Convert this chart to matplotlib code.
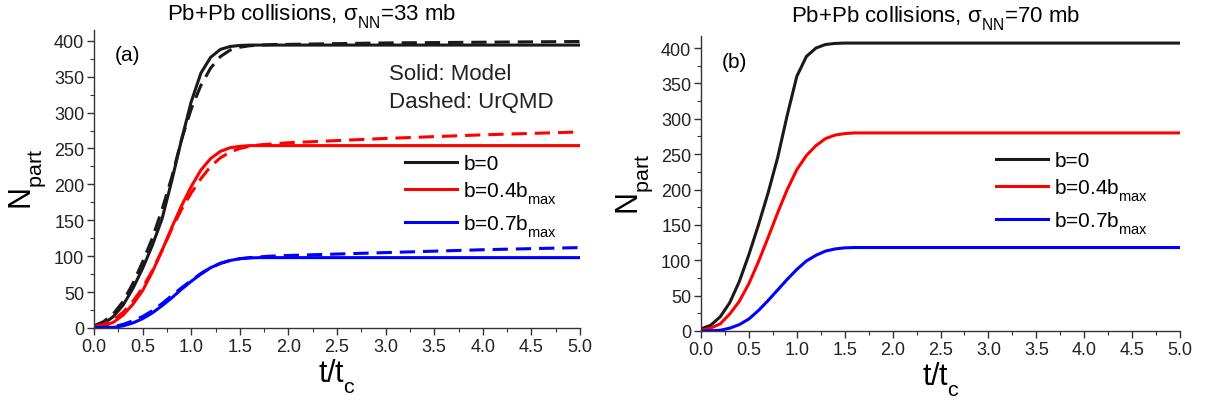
import matplotlib
matplotlib.use("Agg")
import matplotlib.pyplot as plt
from matplotlib.ticker import MultipleLocator

try:
    import matplotlib._mathtext as _mt
    _mt.FontConstantsBase.sub1 = 0.7
    _mt.FontConstantsBase.sub2 = 0.75
except Exception:
    pass

plt.rcParams['font.family'] = ['Liberation Sans', 'DejaVu Sans']
plt.rcParams['mathtext.fontset'] = 'custom'
plt.rcParams['mathtext.rm'] = 'Liberation Sans'
plt.rcParams['mathtext.it'] = 'Liberation Sans:italic'
plt.rcParams['mathtext.bf'] = 'Liberation Sans:bold'

# ---------------- data ----------------
t = [0.0, 0.1, 0.2, 0.3, 0.4, 0.5, 0.6, 0.7, 0.8, 0.9, 1.0, 1.1, 1.2, 1.3, 1.4,
     1.5, 1.6, 1.7, 1.8, 1.9, 2.0, 2.5, 3.0, 3.5, 4.0, 4.5, 5.0]

# panel (a): sigma_NN = 33 mb
a_b0_model = [2, 6, 16, 32, 55, 83, 115, 152, 205, 262, 315, 355, 377, 388, 392,
              393.5, 394, 394, 394, 394, 394, 394, 394, 394, 394, 394, 394]
a_b0_urqmd = [3, 9, 20, 37, 62, 92, 125, 165, 210, 262, 305, 338, 362, 378, 387,
              391, 393, 394, 394.5, 395, 395, 396, 397, 397.5, 398, 398.5, 399]
a_b04_model = [1, 3, 8, 18, 33, 52, 78, 108, 140, 170, 197, 220, 236, 246, 251,
               253, 254, 254, 254, 254, 254, 254, 254, 254, 254, 254, 254]
a_b04_urqmd = [2, 5, 11, 22, 37, 56, 80, 108, 138, 165, 188, 208, 225, 237, 245,
               250, 253, 255, 256, 257, 258, 261, 264, 266.5, 269, 271, 273]
a_b07_model = [0, 0.3, 1, 3, 7, 13, 21, 31, 42, 54, 65, 75, 84, 90, 94,
               96.5, 97.5, 98, 98, 98, 98, 98, 98, 98, 98, 98, 98]
a_b07_urqmd = [0.5, 1, 2, 5, 10, 16, 24, 34, 45, 56, 66, 76, 84, 90, 94,
               96.5, 98, 99, 100, 100.5, 101, 103, 105, 107, 109, 110.5, 112]

# panel (b): sigma_NN = 70 mb
b_b0_model = [3, 8, 20, 40, 70, 108, 150, 195, 245, 305, 360, 388, 400, 405, 406.5,
              407, 407, 407, 407, 407, 407, 407, 407, 407, 407, 407, 407]
b_b04_model = [1, 4, 10, 24, 42, 67, 98, 132, 167, 200, 228, 248, 262, 272, 277,
               279, 280, 280, 280, 280, 280, 280, 280, 280, 280, 280, 280]
b_b07_model = [0, 0.3, 1, 4, 9, 17, 29, 43, 58, 73, 87, 99, 107, 113, 116,
               117.5, 118, 118, 118, 118, 118, 118, 118, 118, 118, 118, 118]

labels = ['b=0', r'b=0.4b$_{\rm max}$', r'b=0.7b$_{\rm max}$']
colors = ['#1a1a1a', '#ff0000', '#0000ff']
xticks = [0.0, 0.5, 1.0, 1.5, 2.0, 2.5, 3.0, 3.5, 4.0, 4.5, 5.0]
yticks = [0, 50, 100, 150, 200, 250, 300, 350, 400]

W, H = 1206, 402
fig = plt.figure(figsize=(W / 100, H / 100), dpi=100)

axa = fig.add_axes([94 / W, 1 - 329 / H, (580 - 94) / W, (329 - 31) / H])
axb = fig.add_axes([701 / W, 1 - 332 / H, (1180 - 701) / W, (332 - 37) / H])

LW = 2.2
for c, m, u, lab in zip(colors, [a_b0_model, a_b04_model, a_b07_model],
                        [a_b0_urqmd, a_b04_urqmd, a_b07_urqmd], labels):
    axa.plot(t, u, color=c, lw=LW, dashes=(5.0, 2.6))
    axa.plot(t, m, color=c, lw=LW, label=lab)

for c, m, lab in zip(colors, [b_b0_model, b_b04_model, b_b07_model], labels):
    axb.plot(t, m, color=c, lw=LW, label=lab)

for ax, ytop in ((axa, 415), (axb, 417)):
    ax.set_xlim(0, 5.0)
    ax.set_ylim(0, ytop)
    ax.set_xticks(xticks)
    ax.set_xticklabels([f"{v:.1f}" for v in xticks])
    ax.set_yticks(yticks)
    ax.xaxis.set_minor_locator(MultipleLocator(0.25))
    ax.yaxis.set_minor_locator(MultipleLocator(25))
    ax.spines['top'].set_visible(False)
    ax.spines['right'].set_visible(False)
    for s in ('left', 'bottom'):
        ax.spines[s].set_linewidth(1.0)
        ax.spines[s].set_color('#333333')
    ax.tick_params(which='major', direction='out', length=5, width=1.0,
                   labelsize=13, colors='#333333', labelcolor='#222222', pad=2)
    ax.tick_params(which='minor', direction='out', length=3, width=0.8, colors='#333333')
    ax.set_xlabel(r't/t$_{\rm c}$', fontsize=22, labelpad=1)
    ax.set_ylabel(r'N$_{\rm part}$', fontsize=22, labelpad=4)

axa.legend(loc='upper left', frameon=False, fontsize=15, handlelength=2.5,
           handletextpad=0.3, labelspacing=0.3, borderaxespad=0, borderpad=0)
axa.get_legend().set_bbox_to_anchor((405 / W, 1 - 155 / H), transform=fig.transFigure)
axb.legend(loc='upper left', frameon=False, fontsize=15, handlelength=2.5,
           handletextpad=0.3, labelspacing=0.3, borderaxespad=0, borderpad=0)
axb.get_legend().set_bbox_to_anchor((996 / W, 1 - 152 / H), transform=fig.transFigure)

axa.text(0.043, 0.919, '(a)', transform=axa.transAxes, fontsize=15, ha='left', va='center')
axb.text(0.044, 0.915, '(b)', transform=axb.transAxes, fontsize=15, ha='left', va='center')
axa.text(0.607, 0.836, 'Solid: Model', transform=axa.transAxes, fontsize=16,
         ha='left', va='baseline', color='#222222')
axa.text(0.607, 0.743, 'Dashed: UrQMD', transform=axa.transAxes, fontsize=16,
         ha='left', va='baseline', color='#222222')

fig.text(312 / W, 1 - 17 / H, r'Pb+Pb collisions, σ$_{\rm NN}$=33 mb', fontsize=16,
         ha='center', va='center')
fig.text(936 / W, 1 - 19 / H, r'Pb+Pb collisions, σ$_{\rm NN}$=70 mb', fontsize=16,
         ha='center', va='center')

fig.savefig('out.png', dpi=100)
